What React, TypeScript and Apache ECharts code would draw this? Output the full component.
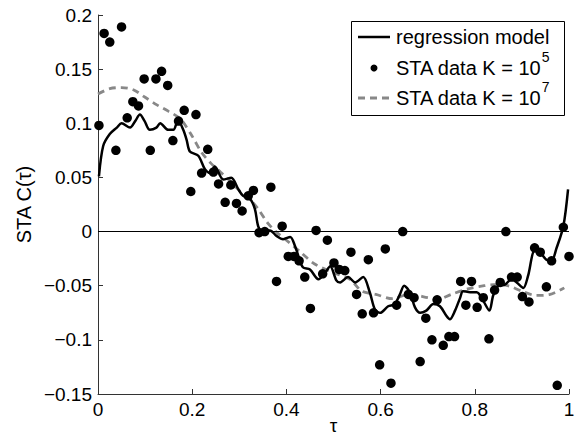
import React, { useEffect, useRef } from 'react';
import * as echarts from 'echarts';

const FONT = '"Liberation Sans", Arial, Helvetica, sans-serif';

// STA data K = 10^5 (scatter)
const staTau = [
  0.002, 0.013, 0.025, 0.038, 0.05, 0.062, 0.074, 0.086, 0.098, 0.111, 0.123, 0.135,
  0.148, 0.159, 0.171, 0.183, 0.197, 0.208, 0.22, 0.233, 0.245, 0.256, 0.27, 0.282,
  0.294, 0.306, 0.319, 0.33, 0.342, 0.354, 0.367, 0.379, 0.391, 0.404, 0.416, 0.427,
  0.439, 0.451, 0.463, 0.477, 0.487, 0.501, 0.512, 0.524, 0.537, 0.549, 0.561, 0.574,
  0.585, 0.598, 0.61, 0.622, 0.634, 0.647, 0.659, 0.671, 0.684, 0.696, 0.709, 0.72,
  0.733, 0.745, 0.757, 0.77, 0.781, 0.793, 0.805, 0.818, 0.83, 0.842, 0.854, 0.866,
  0.878, 0.89, 0.901, 0.915, 0.927, 0.939, 0.952, 0.963, 0.975, 0.988, 1.0,
];
const staC = [
  0.098, 0.183, 0.175, 0.075, 0.189, 0.105, 0.12, 0.116, 0.141, 0.075, 0.141, 0.148,
  0.135, 0.084, 0.102, 0.112, 0.037, 0.108, 0.054, 0.076, 0.055, 0.044, 0.027, 0.043,
  0.026, 0.019, 0.033, 0.038, -0.001, 0.0, 0.041, -0.046, 0.005, -0.023, -0.023, -0.027,
  -0.042, -0.071, 0.001, -0.039, -0.008, -0.029, -0.035, -0.036, -0.019, -0.058, -0.076, -0.026,
  -0.075, -0.123, -0.016, -0.14, -0.068, 0.0, -0.058, -0.061, -0.12, -0.08, -0.1, -0.063,
  -0.105, -0.097, -0.097, -0.046, -0.068, -0.046, -0.07, -0.061, -0.099, -0.054, -0.047, 0.0,
  -0.042, -0.042, -0.06, -0.065, -0.015, -0.019, -0.051, -0.027, -0.142, 0.004, -0.023,
];

// STA data K = 10^7 (dashed)
const sta7Tau = [
  0, 0.025, 0.05, 0.075, 0.1, 0.125, 0.15, 0.175, 0.2, 0.22, 0.24, 0.26, 0.28, 0.3, 0.32,
  0.34, 0.36, 0.38, 0.4, 0.43, 0.46, 0.5, 0.535, 0.56, 0.59, 0.625, 0.66, 0.7, 0.72, 0.75,
  0.785, 0.82, 0.84, 0.87, 0.9, 0.93, 0.96, 0.99,
];
const sta7C = [
  0.127, 0.132, 0.133, 0.131, 0.124, 0.117, 0.111, 0.104, 0.088, 0.073, 0.063, 0.055, 0.047,
  0.038, 0.031, 0.021, 0.008, -0.001, -0.008, -0.019, -0.03, -0.038, -0.044, -0.055, -0.058,
  -0.062, -0.058, -0.061, -0.063, -0.058, -0.053, -0.05, -0.049, -0.05, -0.055, -0.059, -0.058,
  -0.052,
];

// regression model
const regTau = [
  0.002, 0.011, 0.025, 0.04, 0.05, 0.068, 0.079, 0.089, 0.099, 0.11, 0.124, 0.132, 0.149,
  0.16, 0.17, 0.181, 0.188, 0.195, 0.213, 0.227, 0.238, 0.248, 0.266, 0.283, 0.298, 0.308,
  0.323, 0.333, 0.34, 0.347, 0.365, 0.379, 0.393, 0.408, 0.418, 0.425, 0.435, 0.45, 0.468,
  0.481, 0.493, 0.506, 0.514, 0.531, 0.546, 0.563, 0.577, 0.588, 0.599, 0.616, 0.63, 0.641,
  0.65, 0.662, 0.673, 0.684, 0.697, 0.712, 0.726, 0.74, 0.747, 0.758, 0.769, 0.775, 0.79,
  0.804, 0.818, 0.831, 0.839, 0.85, 0.864, 0.878, 0.889, 0.903, 0.913, 0.927, 0.938, 0.952,
  0.963, 0.973, 0.988, 0.998,
];
const regC = [
  0.051, 0.079, 0.09, 0.096, 0.1, 0.096, 0.102, 0.108, 0.102, 0.094, 0.096, 0.1, 0.094,
  0.094, 0.103, 0.094, 0.085, 0.074, 0.07, 0.0575, 0.054, 0.06, 0.048, 0.0498, 0.039, 0.033,
  0.03, 0.021, 0.005, 0.001, 0.001, -0.004, -0.007, -0.005, -0.013, -0.022, -0.033, -0.035,
  -0.044, -0.039, -0.032, -0.045, -0.047, -0.042, -0.047, -0.042, -0.056, -0.072, -0.075,
  -0.069, -0.067, -0.058, -0.05, -0.056, -0.07, -0.075, -0.073, -0.067, -0.069, -0.078,
  -0.081, -0.073, -0.061, -0.055, -0.056, -0.056, -0.064, -0.073, -0.059, -0.05, -0.049,
  -0.044, -0.047, -0.052, -0.041, -0.018, -0.019, -0.026, -0.027, -0.016, 0.005, 0.039,
];

const legendLabels = ['regression model', 'STA data K = 10', 'STA data K = 10'];
const legendExponents = ['', '5', '7'];

const zip = (a: number[], b: number[]) => a.map((v, i) => [v, b[i]]);

export default function App() {
  const ref = useRef<HTMLDivElement>(null);

  useEffect(() => {
    const chart = echarts.init(ref.current!, null, { renderer: 'svg' });
    const axisColor = '#333';
    const lx = 351, ly = 21, lw = 213, lh = 94;
    const rowY = [37, 68, 98];
    const option: any = {
      animation: false,
      backgroundColor: '#fff',
      grid: { left: 98, right: 11, top: 15, bottom: 47, containLabel: false, outerBoundsMode: 'none' },
      xAxis: {
        type: 'value', min: 0, max: 1, interval: 0.2,
        name: 'τ', nameLocation: 'middle', nameGap: 22, nameMoveOverlap: false,
        nameTextStyle: { fontSize: 19, fontFamily: FONT, color: '#000' },
        axisLine: { onZero: false, lineStyle: { color: axisColor, width: 1 } },
        axisTick: { inside: true, length: 5, lineStyle: { color: axisColor } },
        axisLabel: { fontSize: 19, fontFamily: FONT, color: '#000', margin: 6,
          formatter: (v: number) => String(Math.round(v * 10) / 10) },
        splitLine: { show: false },
      },
      yAxis: {
        type: 'value', min: -0.15, max: 0.2, interval: 0.05,
        name: 'STA C(τ)', nameLocation: 'middle', nameGap: 64, nameMoveOverlap: false,
        nameTextStyle: { fontSize: 20, fontFamily: FONT, color: '#000' },
        axisLine: { onZero: false, lineStyle: { color: axisColor, width: 1 } },
        axisTick: { inside: true, length: 5, lineStyle: { color: axisColor } },
        axisLabel: { fontSize: 19, fontFamily: FONT, color: '#000', margin: 6,
          formatter: (v: number) => {
            const r = Math.round(v * 100) / 100;
            const s = String(Math.abs(r));
            return r < 0 ? '\u2212' + s : s;
          } },
        splitLine: { show: false },
      },
      series: [
        {
          name: 'STA data K = 10^7', type: 'line', data: zip(sta7Tau, sta7C),
          symbol: 'none', smooth: 0.3, z: 2,
          lineStyle: { color: '#888', width: 2.8, type: [7, 5] },
          markLine: {
            silent: true, symbol: ['none', 'none'], label: { show: false },
            lineStyle: { color: '#000', width: 1, type: 'solid' },
            data: [{ yAxis: 0 }],
          },
        },
        {
          name: 'regression model', type: 'line', data: zip(regTau, regC),
          symbol: 'none', smooth: 0.3, z: 3,
          lineStyle: { color: '#000', width: 2.5 },
        },
        {
          name: 'STA data K = 10^5', type: 'scatter', data: zip(staTau, staC),
          symbol: 'circle', symbolSize: 9.5, z: 4,
          itemStyle: { color: '#000', opacity: 1 },
        },
      ],
      graphic: [
        {
          type: 'group', z: 100,
          children: [
            { type: 'rect', shape: { x: lx + 0.5, y: ly + 0.5, width: lw, height: lh },
              style: { fill: '#fff', stroke: '#000', lineWidth: 1 } },
            { type: 'line', shape: { x1: 358, y1: rowY[0], x2: 390, y2: rowY[0] },
              style: { stroke: '#000', lineWidth: 2.5 } },
            { type: 'circle', shape: { cx: 374, cy: rowY[1], r: 3.5 }, style: { fill: '#000' } },
            { type: 'line', shape: { x1: 358, y1: rowY[2], x2: 390, y2: rowY[2] },
              style: { stroke: '#888', lineWidth: 2.8, lineDash: [7, 5] } },
            ...legendLabels.map((t, i) => ({
              type: 'text', x: 396, y: legendExponents[i] ? rowY[i] - 4 : rowY[i],
              style: {
                text: legendExponents[i] ? `{n|${t}}{s|${legendExponents[i]}}` : t,
                fontSize: 20, fontFamily: FONT, fill: '#000', verticalAlign: 'middle',
                rich: {
                  n: { fontSize: 20, fontFamily: FONT, lineHeight: 28, verticalAlign: 'bottom' },
                  s: { fontSize: 14, fontFamily: FONT, lineHeight: 28, verticalAlign: 'top' },
                },
              },
            })),
          ],
        },
      ],
    };
    chart.setOption(option);
    return () => chart.dispose();
  }, []);

  return (
    <div
      ref={ref}
      style={{ position: 'fixed', left: 0, top: 0, width: 580, height: 441, background: '#fff' }}
    />
  );
}
